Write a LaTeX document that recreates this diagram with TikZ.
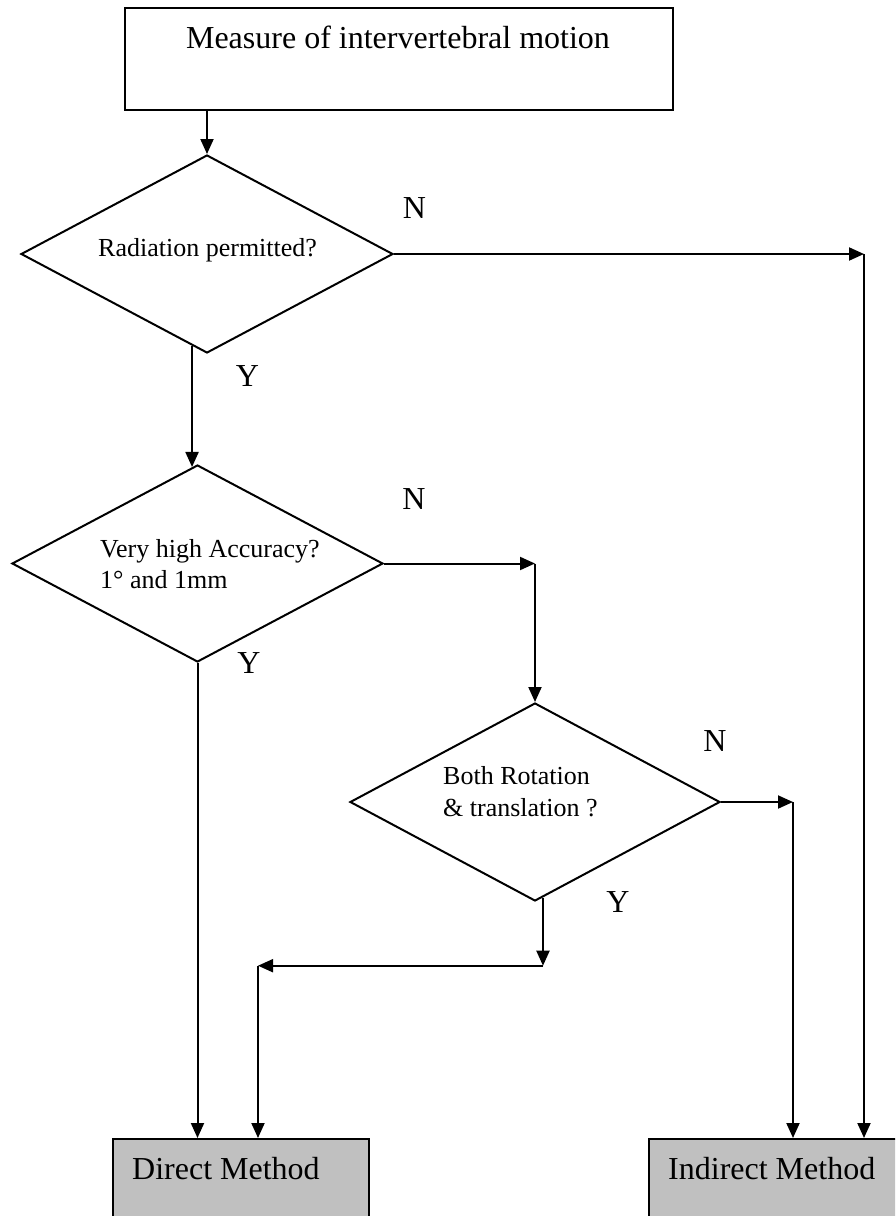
\documentclass[tikz,border=0pt]{standalone}
\usepackage{fontspec}
\setmainfont{Liberation Serif}
\usetikzlibrary{shapes.geometric,arrows.meta,calc}
\definecolor{boxgray}{HTML}{C0C0C0}
\begin{document}
\begin{tikzpicture}[x=1pt,y=-1pt,
  flowline/.style={draw=black, line width=2pt},
  arr/.style={flowline, -{Triangle[length=15pt,width=13pt]}},
  decision/.style={diamond, draw, line width=2pt, inner sep=0pt},
  procbox/.style={rectangle, draw, line width=2pt, inner sep=0pt, anchor=north west},
  ltext/.style={font=\fontsize{32}{38}\selectfont, inner sep=0pt},
  qtext/.style={font=\fontsize{26}{31}\selectfont, inner sep=0pt, anchor=base west},
  lbl/.style={ltext, anchor=base}]
\useasboundingbox (0,0) rectangle (895,1216);
\clip (0,0) rectangle (895,1216);

% start box
\node[procbox, minimum width=548pt, minimum height=102pt] (top) at (124,7) {};
\node[ltext, anchor=base] (toptext) at (398,48) {Measure of intervertebral motion};

% decisions
\node[decision, minimum width=372pt, minimum height=198pt] (d1) at (207,254) {};
\node[qtext] (t1) at (98,256) {Radiation permitted?};

\node[decision, minimum width=371pt, minimum height=197pt] (d2) at (197.5,563.5) {};
\node[qtext] (t2a) at (100,557) {Very high Accuracy?};
\node[qtext] (t2b) at (100,588) {1° and 1mm};

\node[decision, minimum width=370pt, minimum height=198pt] (d3) at (535,802) {};
\node[qtext] (t3a) at (443,784) {Both Rotation};
\node[qtext] (t3b) at (443,816) {\& translation ?};

% outcomes
\node[procbox, fill=boxgray, minimum width=256pt, minimum height=120pt] (dm) at (112,1138) {};
\node[ltext, anchor=base west] (dmt) at (132,1179) {Direct Method};
\node[procbox, fill=boxgray, minimum width=270pt, minimum height=120pt] (im) at (648,1138) {};
\node[ltext, anchor=base west] (imt) at (668,1179) {Indirect Method};

% branch labels
\node[lbl] (n1) at (414.5,218) {N};
\node[lbl] (y1) at (247.5,386) {Y};
\node[lbl] (n2) at (414,509) {N};
\node[lbl] (y2) at (249,673) {Y};
\node[lbl] (n3) at (715,751) {N};
\node[lbl] (y3) at (618,912) {Y};

% routing points
\path (d1.east) ++(470,0) coordinate (c1);
\coordinate (c2) at (d2.east -| d3.north);
\path (d3.east) ++(72,0) coordinate (c3);
\coordinate (y1s) at ($(d1.south)!0.08!(d1.west)$);
\coordinate (y1e) at ($(d2.north)!0.03!(d2.west)$);
\coordinate (y3s) at ($(d3.south)!0.043!(d3.east)$);
\path (y3s) ++(0,68) coordinate (c4);
\path (c4) ++(-285,0) coordinate (c5);

% connectors
\draw[arr] (top.south -| d1.north) -- (d1.north);
\draw[arr] (d1.east) -- (c1);
\draw[arr] (c1) -- (c1 |- im.north);
\draw[arr] (y1s) -- (y1s |- y1e);
\draw[arr] (d2.east) -- (c2);
\draw[arr] (c2) -- (d3.north);
\draw[arr] (d2.south) -- (d2.south |- dm.north);
\draw[arr] (d3.east) -- (c3);
\draw[arr] (c3) -- (c3 |- im.north);
\draw[arr] (y3s) -- (c4);
\draw[arr] (c4) -- (c5);
\draw[arr] (c5) -- (c5 |- dm.north);
\end{tikzpicture}
\end{document}
